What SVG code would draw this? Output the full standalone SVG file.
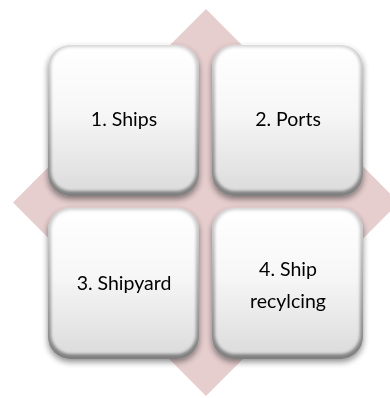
<svg xmlns="http://www.w3.org/2000/svg" width="390" height="398" viewBox="0 0 390 398">
<defs>
<linearGradient id="edge" x1="0" y1="0" x2="0" y2="1">
<stop offset="0" stop-color="#d4d4d4"/>
<stop offset="1" stop-color="#7f7f7f"/>
</linearGradient>
<linearGradient id="face" x1="0" y1="0" x2="0" y2="1">
<stop offset="0" stop-color="#ffffff"/>
<stop offset="0.45" stop-color="#f7f7f7"/>
<stop offset="1" stop-color="#dcdcdc"/>
</linearGradient>
<filter id="shadow" x="-10%" y="-10%" width="120%" height="125%">
<feGaussianBlur in="SourceAlpha" stdDeviation="3"/>
<feOffset dy="3" result="b"/>
<feComponentTransfer><feFuncA type="linear" slope="0.45"/></feComponentTransfer>
<feMerge><feMergeNode/><feMergeNode in="SourceGraphic"/></feMerge>
</filter>
<filter id="soft" x="-5%" y="-5%" width="110%" height="110%">
<feGaussianBlur stdDeviation="1.6"/>
</filter>
<g id="box">
<rect x="0" y="0" width="151" height="151" rx="22" fill="url(#edge)"/>
<rect x="3" y="2" width="145" height="144" rx="20" fill="url(#face)" filter="url(#soft)"/>
</g>
</defs>
<style>
text{font-family:Lato,"Open Sans","Liberation Sans",sans-serif;font-size:19.5px;fill:#000;text-anchor:middle}
</style>
<rect width="390" height="398" fill="#ffffff"/>
<polygon id="diamond" points="206,9 399,202.5 206,396 13,202.5" fill="#e6cdce"/>
<g id="connectors"/>
<g id="node1" filter="url(#shadow)">
<use href="#box" x="48" y="45"/>
<text x="124" y="126">1. Ships</text>
</g>
<g id="node2" filter="url(#shadow)">
<use href="#box" x="212" y="45"/>
<text x="288" y="126">2. Ports</text>
</g>
<g id="node3" filter="url(#shadow)">
<use href="#box" x="48" y="208"/>
<text x="124" y="290">3. Shipyard</text>
</g>
<g id="node4" filter="url(#shadow)">
<use href="#box" x="212" y="208"/>
<text x="288" y="276">4. Ship</text>
<text x="288" y="308">recylcing</text>
</g>
</svg>
